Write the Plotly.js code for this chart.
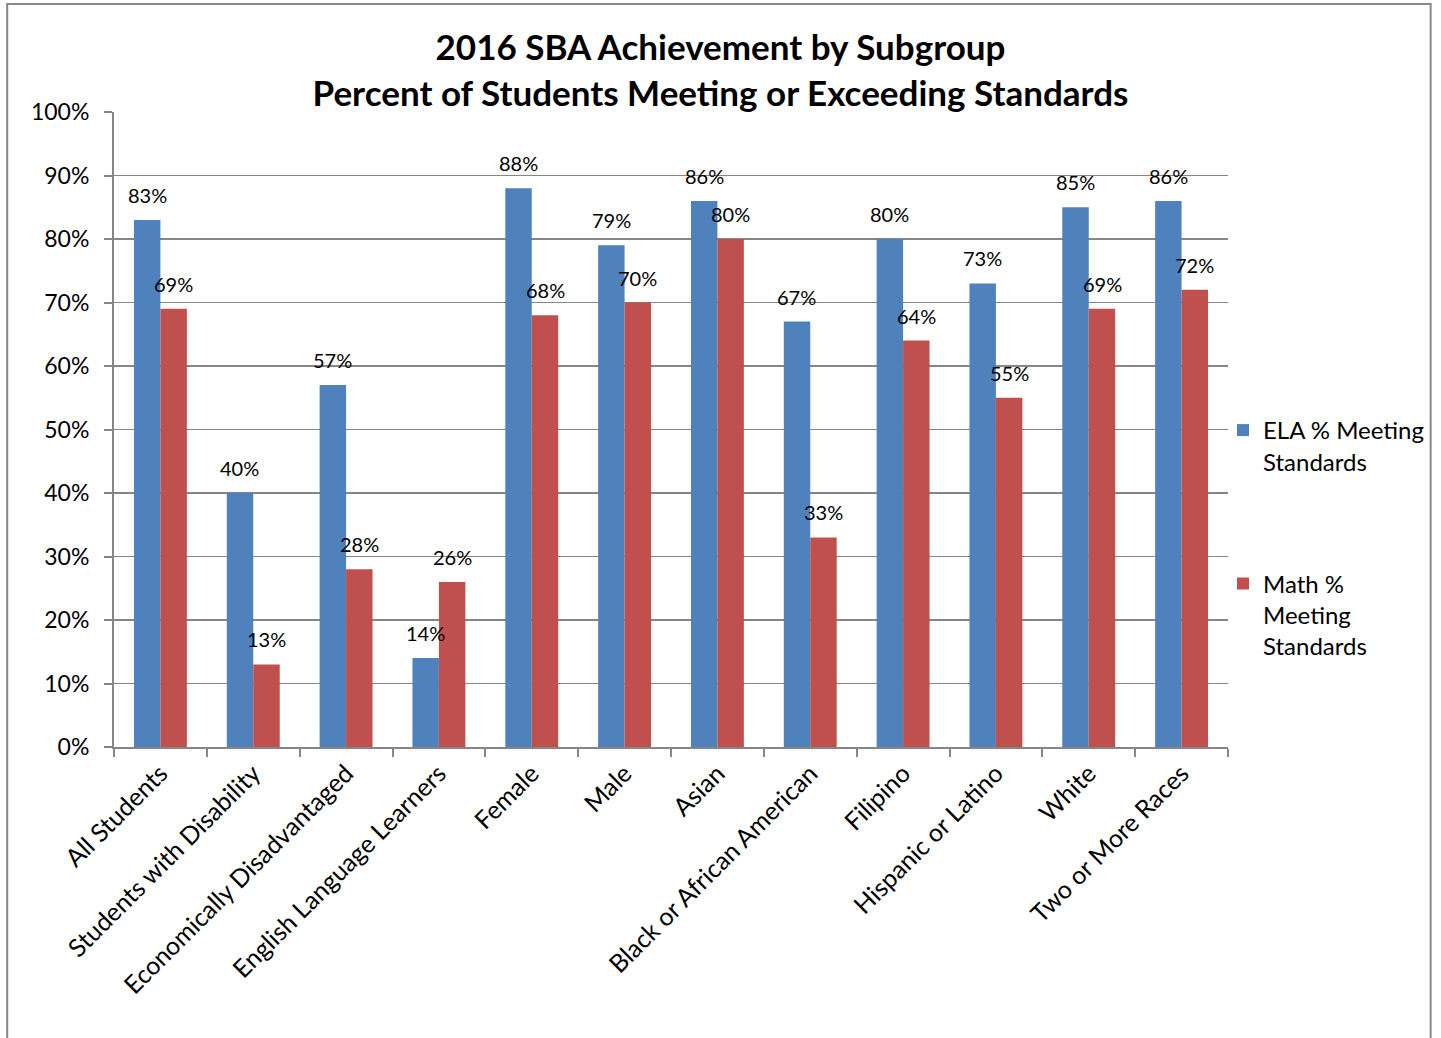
<!DOCTYPE html>
<html>
<head>
<meta charset="utf-8">
<script src="https://cdn.plot.ly/plotly-3.0.1.min.js"></script>
<style>
  html, body { margin: 0; padding: 0; background: #ffffff; }
  #chart { width: 1441px; height: 1038px; }
</style>
</head>
<body>
<div id="chart"></div>
<script>
const categories = [
  "All Students", "Students with Disability", "Economically Disadvantaged",
  "English Language Learners", "Female", "Male", "Asian",
  "Black or African American", "Filipino", "Hispanic or Latino", "White",
  "Two or More Races"
];
const elaValues  = [83, 40, 57, 14, 88, 79, 86, 67, 80, 73, 85, 86];
const mathValues = [69, 13, 28, 26, 68, 70, 80, 33, 64, 55, 69, 72];
const seriesNames = ["ELA % Meeting<br>Standards", "Math %<br>Meeting<br>Standards"];
const yTickVals = [0, 10, 20, 30, 40, 50, 60, 70, 80, 90, 100];

const FONT = "Lato, 'Noto Sans', sans-serif";
const GRID = "#868686";

const ela = {
  type: "bar", name: seriesNames[0], x: categories, y: elaValues,
  marker: { color: "#4F81BD" }, legendgroup: "ela", hoverinfo: "x+y"
};
const math = {
  type: "bar", name: seriesNames[1], x: categories, y: mathValues,
  marker: { color: "#C0504D" }, legendgroup: "math", hoverinfo: "x+y"
};

// data labels above each bar
const barShift = 13.3;
const annotations = [];
categories.forEach((c, i) => {
  annotations.push({ x: c, y: elaValues[i], xref: "x", yref: "y", text: elaValues[i] + "%",
    showarrow: false, xshift: -barShift, yshift: 25, yanchor: "middle",
    font: { family: FONT, size: 20, color: "#000" } });
  annotations.push({ x: c, y: mathValues[i], xref: "x", yref: "y", text: mathValues[i] + "%",
    showarrow: false, xshift: barShift, yshift: 25, yanchor: "middle",
    font: { family: FONT, size: 20, color: "#000" } });
});

const L = 114, R = 211, T = 112, B = 291, W = 1441, H = 1038;
const pw = W - L - R, ph = H - T - B;

const layout = {
  width: W, height: H,
  margin: { l: L, r: R, t: T, b: B },
  paper_bgcolor: "#ffffff", plot_bgcolor: "#ffffff",
  font: { family: FONT, color: "#000" },
  title: {
    text: "2016 SBA Achievement by Subgroup<br>Percent of Students Meeting or Exceeding Standards",
    font: { family: FONT, size: 35, color: "#000", weight: "bold" },
    x: 0.5, xref: "container", xanchor: "center",
    y: 1 - 60 / H, yref: "container", yanchor: "top"
  },
  barmode: "group", bargap: 0.43, bargroupgap: 0,
  xaxis: {
    type: "category", tickangle: -45, tickson: "boundaries",
    ticks: "outside", ticklen: 8, tickcolor: GRID, tickwidth: 2,
    showline: true, linecolor: GRID, linewidth: 2,
    showgrid: false, tickfont: { family: FONT, size: 25, color: "#000" },
    automargin: false
  },
  yaxis: {
    range: [0, 100], tickvals: yTickVals, ticktext: yTickVals.map(v => v + "%"),
    ticks: "outside", ticklen: 8, tickcolor: GRID, tickwidth: 2,
    showline: true, linecolor: GRID, linewidth: 2,
    showgrid: true, gridcolor: GRID, gridwidth: 1.5, zeroline: false,
    ticklabelstandoff: 10,
    tickfont: { family: FONT, size: 23, color: "#000" }, automargin: false
  },
  legend: {
    x: (1225 - L) / pw, xanchor: "left", y: (747 - 408) / ph, yanchor: "top",
    font: { family: FONT, size: 24, color: "#000" },
    tracegroupgap: 88, traceorder: "grouped", valign: "top",
    itemwidth: 30, bgcolor: "rgba(0,0,0,0)"
  },
  annotations: annotations,
  shapes: [{
    type: "rect", xref: "paper", yref: "paper",
    x0: (7 - L) / pw, x1: (1433 - L) / pw,
    y0: (747 - 1060) / ph, y1: (747 - 4) / ph,
    line: { color: "#888888", width: 2 }, fillcolor: "rgba(0,0,0,0)", layer: "below"
  }],
  showlegend: true
};

Plotly.newPlot("chart", [ela, math], layout, { displayModeBar: false, staticPlot: true });
</script>
</body>
</html>
